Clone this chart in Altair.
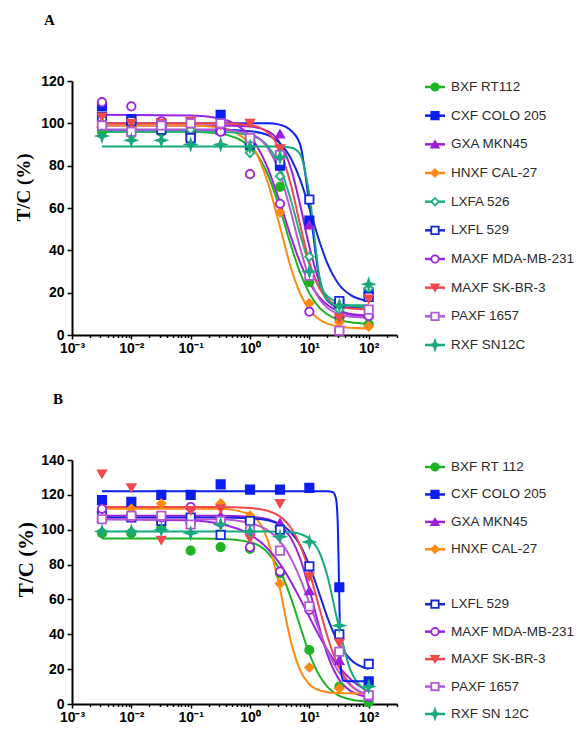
import json
import altair as alt
import pandas as pd

# ---------------- data ----------------
NAMES = ["BXF RT112", "CXF COLO 205", "GXA MKN45", "HNXF CAL-27", "LXFA 526",
         "LXFL 529", "MAXF MDA-MB-231", "MAXF SK-BR-3", "PAXF 1657", "RXF SN12C"]
COLORS = ["#1fb324", "#0a1ef2", "#9c1fd9", "#ff8a12", "#20b27c",
          "#1428dc", "#9a22e2", "#f2484b", "#b45ad8", "#16a97e"]
STAR = "M0,-1.25L0.3,-0.3L1.25,0L0.3,0.3L0,1.25L-0.3,0.3L-1.25,0L-0.3,-0.3Z"
SHAPES = ["circle", "square", "triangle-up", "diamond", "diamond",
          "square", "circle", "triangle-down", "square", STAR]
OPEN_MARKERS = ["LXFA 526", "LXFL 529", "MAXF MDA-MB-231", "PAXF 1657"]

LEGEND_A_KEYS = NAMES
LEGEND_A_LABELS = NAMES
LEGEND_B_KEYS = ["BXF RT112", "CXF COLO 205", "GXA MKN45", "HNXF CAL-27",
                 "LXFL 529", "MAXF MDA-MB-231", "MAXF SK-BR-3", "PAXF 1657", "RXF SN12C"]
LEGEND_B_LABELS = ["BXF RT 112", "CXF COLO 205", "GXA MKN45", "HNXF CAL-27",
                   "LXFL 529", "MAXF MDA-MB-231", "MAXF SK-BR-3", "PAXF 1657", "RXF SN 12C"]

X_TICK_LABELS = ["10\u207b\u00b3", "10\u207b\u00b2", "10\u207b\u00b9", "10\u2070", "10\u00b9", "10\u00b2"]

DOSES = [0.0032, 0.01, 0.032, 0.1, 0.32, 1, 3.2, 10, 32, 100]

A_POINTS = {
    "BXF RT112":       [96, 95, 96, 96, 97, 88, 70, 25, 8, 5],
    "CXF COLO 205":    [108, 102, 100, 94, 104, 92, 80, 54, 15, 20],
    "GXA MKN45":       [100, 99, 100, 97, 98, 92, 95, 52, 10, 10],
    "HNXF CAL-27":     [99, 98, 99, 98, 100, 92, 58, 15, 6, 4],
    "LXFA 526":        [100, 97, 98, 97, 100, 86, 75, 37, 12, 22],
    "LXFL 529":        [103, 101, 97, 93, 97, 90, 82, 64, 16, 18],
    "MAXF MDA-MB-231": [110, 108, 101, 100, 96, 76, 62, 11, 2, 9],
    "MAXF SK-BR-3":    [103, 100, 100, 101, 99, 100, 88, 28, 8, 17],
    "PAXF 1657":       [99, 96, 99, 100, 100, 93, 85, 28, 2, 12],
    "RXF SN12C":       [94, 92, 92, 90, 90, 89, 84, 30, 14, 24],
}
A_CURVE_X = [0.0032, 0.1, 0.3, 1, 2, 3, 5, 7, 10, 15, 20, 30, 50, 100]
A_CURVE = {
    "BXF RT112":       [96, 96, 95.2, 89.1, 75.7, 62, 41.5, 29.3, 19.7, 12.7, 9.8, 7.4, 6, 5.3],
    "CXF COLO 205":    [100, 100, 100, 100, 100, 99.5, 96.4, 90, 61.9, 25.5, 16.4, 13.5, 13, 13],
    "GXA MKN45":       [99, 99, 99, 98.5, 96.3, 91.9, 77.8, 61.4, 41.8, 24.5, 17.3, 12.2, 9.9, 9.2],
    "HNXF CAL-27":     [99, 99, 98.2, 90.4, 72, 54.1, 30.9, 19.6, 11.9, 7.2, 5.4, 4.1, 3.4, 3.1],
    "LXFA 526":        [96, 96, 96, 94.4, 89.2, 81.1, 62.7, 47.5, 33.3, 22.8, 18.5, 15.3, 13.8, 13.2],
    "LXFL 529":        [97, 97, 97, 96.3, 94.4, 91.3, 82.9, 73.4, 59.9, 43.7, 34, 24.7, 18.8, 16],
    "MAXF MDA-MB-231": [104, 103.7, 102.4, 93.9, 78.7, 65, 45.6, 34.2, 24.8, 17.6, 14.3, 11.4, 9.5, 8.5],
    "MAXF SK-BR-3":    [100, 100, 100, 99.2, 95.6, 88.9, 69.9, 52, 34.4, 21.7, 17, 13.9, 12.5, 12.1],
    "PAXF 1657":       [97, 97, 97, 95, 88.3, 78.5, 57.1, 41, 26.9, 16.8, 12.9, 10.1, 8.6, 8.2],
    "RXF SN12C":       [89, 89, 89, 89, 89, 89, 88.5, 85.4, 66.3, 26.7, 16.6, 14.1, 14, 14],
}

B_POINTS = {
    "BXF RT112":       [98, 98, 101, 88, 90, 89, 75, 31, 10, 1],
    "CXF COLO 205":    [117, 116, 120, 120, 126, 123, 123, 124, 67, 13],
    "GXA MKN45":       [107, 108, 107, 106, 108, 108, 104, 65, 25, 5],
    "HNXF CAL-27":     [110, 112, 115, 112, 115, 108, 69, 21, 9, 6],
    "LXFL 529":        [108, 107, 105, 107, 97, 105, 100, 79, 40, 23],
    "MAXF MDA-MB-231": [112, 107, 107, 113, 104, 90, 76, 54, 30, 4],
    "MAXF SK-BR-3":    [132, 124, 94, 111, 112, 95, 115, 73, 35, 5],
    "PAXF 1657":       [106, 108, 108, 103, 105, 100, 88, 56, 30, 5],
    "RXF SN12C":       [99, 99, 100, 98, 103, 99, 96, 93, 45, 10],
}
B_CURVE_X = [0.0032, 0.1, 0.3, 1, 2, 3, 5, 7, 10, 15, 20, 30, 50, 100]
B_CURVE = {
    "BXF RT112":       [95, 95, 94.8, 92.8, 86.8, 78.5, 60, 44.5, 28.9, 15.9, 10, 5.2, 2.6, 1.4],
    "GXA MKN45":       [108, 108, 108, 107.5, 106, 103.2, 94.6, 83.5, 65.9, 42.9, 28.7, 15.4, 7.4, 4],
    "HNXF CAL-27":     [112, 112, 112, 108.9, 93.7, 70.3, 34.5, 19.3, 11.3, 7.8, 6.8, 6.3, 6.1, 6],
    "LXFL 529":        [107, 107, 107, 106.6, 105.4, 103.6, 98.1, 91.1, 79.6, 62.5, 50, 35.8, 25.4, 20],
    "MAXF MDA-MB-231": [106, 105.3, 103.5, 97.3, 89, 81.7, 69.6, 60.3, 49.9, 38.5, 31.1, 22.3, 14, 7],
    "MAXF SK-BR-3":    [113, 113, 113, 112.4, 110.8, 108.2, 100.6, 91, 75.8, 54.2, 39.2, 22.7, 11, 5.1],
    "PAXF 1657":       [106, 106, 106, 103.8, 99.6, 94.4, 83, 72, 58, 41.3, 30.9, 19.4, 10.5, 5],
    "RXF SN12C":       [99, 99, 99, 99, 99, 98.9, 98.5, 97.6, 94.9, 86.5, 73.9, 47.2, 19, 7],
}
B_CXF_CURVE_X = [0.0032, 1, 10, 20, 25, 28, 30, 32, 34, 37, 50, 100]
B_CXF_CURVE_Y = [122, 122, 122, 122, 121.5, 118, 105, 60, 20, 13.5, 13, 13]

# ---------------- scales ----------------
FILLS = [("white" if n in OPEN_MARKERS else c) for n, c in zip(NAMES, COLORS)]
color_scale = alt.Scale(domain=NAMES, range=COLORS)
fill_scale = alt.Scale(domain=NAMES, range=FILLS)
shape_scale = alt.Scale(domain=NAMES, range=SHAPES)

X_MAJOR = [0.001, 0.01, 0.1, 1, 10, 100]
X_MINOR = [m * 10.0 ** k for k in range(-3, 2) for m in range(2, 10)] + [200, 300]
MAJOR_TEST = "abs(log(datum.value)/LN10 - round(log(datum.value)/LN10)) < 0.001"
LABEL_EXPR = (f"{MAJOR_TEST} ? {json.dumps(X_TICK_LABELS, ensure_ascii=False)}"
              f"[round(log(datum.value)/LN10) + 3] : ''")

SANS = "Arial"
SERIF = "Liberation Serif"
LEG_FONT = "Liberation Sans Narrow, Arial"


def make_panel(points, curves, extra_curves, ymax, height, title, title_dx,
               title_offset, yt_x, yt_y, yt_size, leg_keys, leg_labels, leg_range):
    prow = []
    for k, vals in points.items():
        for d, v in zip(DOSES, vals):
            prow.append({"key": k, "x": d, "y": v})
    crow = []
    for k, (xs, ys) in list(curves.items()) + list(extra_curves.items()):
        for d, v in zip(xs, ys):
            crow.append({"key": k, "x": d, "y": v})
    pdf = pd.DataFrame(prow)
    cdf = pd.DataFrame(crow)
    ldf = pd.DataFrame({"key": leg_keys, "label": leg_labels})

    xscale = alt.Scale(type="log", domain=[0.001, 300], nice=False)
    yscale = alt.Scale(domain=[0, ymax], nice=False, zero=True)
    xaxis = alt.Axis(
        values=X_MAJOR + X_MINOR, labelExpr=LABEL_EXPR,
        tickSize={"condition": {"test": MAJOR_TEST, "value": 4}, "value": 2.5},
        grid=False, domainColor="black", domainWidth=2, tickColor="black",
        tickWidth=1.5, labelFont=SANS, labelFontWeight="bold", labelFontSize=14,
        labelColor="black", labelPadding=2, labelOverlap=False, labelFlush=False,
    )
    yaxis = alt.Axis(
        values=list(range(0, ymax + 1, 20)), grid=False, domainColor="black",
        domainWidth=2, tickColor="black", tickWidth=1.5, tickSize=5,
        labelFont=SANS, labelFontWeight="bold", labelFontSize=14, labelColor="black",
        labelPadding=3, title="T/C (%)", titleFont=SERIF, titleFontSize=yt_size,
        titleFontWeight="bold", titleColor="black", titleX=yt_x, titleY=yt_y,
        titleAngle=270, titleAlign="center", titleBaseline="middle",
    )

    lines = alt.Chart(cdf).mark_line(interpolate="monotone", strokeWidth=2).encode(
        x=alt.X("x:Q", scale=xscale, axis=xaxis, title=None),
        y=alt.Y("y:Q", scale=yscale, axis=yaxis),
        color=alt.Color("key:N", scale=color_scale, legend=None),
        detail="key:N",
    )
    pts = alt.Chart(pdf).mark_point(size=70, strokeWidth=1.8, opacity=1).encode(
        x=alt.X("x:Q", scale=xscale),
        y=alt.Y("y:Q", scale=yscale, axis=None),
        shape=alt.Shape("key:N", scale=shape_scale, legend=None),
        stroke=alt.Stroke("key:N", scale=color_scale, legend=None),
        fill=alt.Fill("key:N", scale=fill_scale, legend=None),
    )

    # legend drawn beside the plot (rows placed by a point scale on the series names)
    ly = alt.Y("key:N", scale=alt.Scale(type="point", domain=NAMES, range=leg_range, padding=0),
               axis=None)
    lbase = alt.Chart(ldf).encode(y=ly)
    lrule = lbase.mark_rule(strokeWidth=2.5).encode(
        x=alt.value(353), x2=alt.value(373),
        color=alt.Color("key:N", scale=color_scale, legend=None),
    )
    lpts = lbase.mark_point(size=55, strokeWidth=1.8, opacity=1).encode(
        x=alt.value(363),
        shape=alt.Shape("key:N", scale=shape_scale, legend=None),
        stroke=alt.Stroke("key:N", scale=color_scale, legend=None),
        fill=alt.Fill("key:N", scale=fill_scale, legend=None),
    )
    ltxt = lbase.mark_text(align="left", baseline="middle", font=LEG_FONT,
                           fontSize=13.5, color="#2b2b2b").encode(
        x=alt.value(379), text="label:N",
    )

    return alt.layer(lines, pts, lrule, lpts, ltxt).resolve_scale(y="independent").properties(
        width=325, height=height,
        title=alt.TitleParams(title, anchor="start", frame="group", dx=title_dx,
                              offset=title_offset, font=SERIF, fontSize=15,
                              fontWeight="bold", color="black"),
    )


a_curves = {k: (A_CURVE_X, v) for k, v in A_CURVE.items()}
b_curves = {k: (B_CURVE_X, v) for k, v in B_CURVE.items()}
b_extra = {"CXF COLO 205": (B_CXF_CURVE_X, B_CXF_CURVE_Y)}

plotA = make_panel(A_POINTS, a_curves, {}, 120, 254, "A", -28, 46, -49, 106, 19,
                   LEGEND_A_KEYS, LEGEND_A_LABELS, [6, 264])
plotB = make_panel(B_POINTS, b_curves, b_extra, 140, 244, "B", -19, 46, -46, 99, 21,
                   LEGEND_B_KEYS, LEGEND_B_LABELS, [7, 254])

chart = alt.vconcat(plotA, plotB, spacing=35).properties(
    padding={"left": 5, "top": 4, "right": 0, "bottom": 0},
    background="white",
).configure_view(stroke="transparent")

chart.save("out.html", embed_options={"renderer": "svg", "actions": False})
